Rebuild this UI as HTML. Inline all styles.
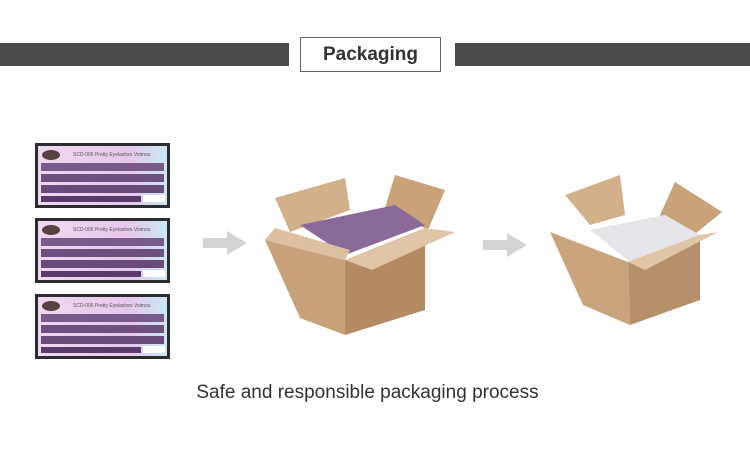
<!DOCTYPE html>
<html><head><style>
body{margin:0;width:750px;height:462px;background:#fff;overflow:hidden;font-family:"Liberation Sans",sans-serif;position:relative}
.bar{position:absolute;top:43px;height:23px;background:#4b4b4b}
.t{position:absolute;left:300px;top:37px;width:141px;height:35px;border:1px solid #666;box-sizing:border-box;text-align:center;line-height:33px;font-size:19px;font-weight:bold;color:#333;background:#fff}
.cap{position:absolute;left:0;width:735px;top:382px;text-align:center;font-size:19px;color:#333}
svg{position:absolute;left:0;top:0}
</style></head><body>
<div class="bar" style="left:0;width:289px"></div>
<div class="bar" style="left:455px;width:295px"></div>
<div class="t">Packaging</div>
<svg width="750" height="462">
<defs>
<linearGradient id="tray" x1="0" x2="1" y1="0" y2="0"><stop offset="0" stop-color="#f0d8f0"/><stop offset=".7" stop-color="#e7c7ec"/><stop offset="1" stop-color="#c8e8f5"/></linearGradient>
<g id="t">
<rect x="0" y="0" width="135" height="65" fill="#2b2b30"/>
<rect x="3" y="3" width="129" height="59" fill="url(#tray)"/>
<ellipse cx="16" cy="12" rx="9" ry="5" fill="#5a4040"/>
<text x="38" y="13" font-size="5" fill="#555">SCD-006 Pretty Eyelashes Voimou</text>
<rect x="6" y="20" width="123" height="8" fill="#7a5a8a"/>
<rect x="6" y="31" width="123" height="8" fill="#6f4f80"/>
<rect x="6" y="42" width="123" height="8" fill="#6a4a7a"/>
<rect x="6" y="53" width="100" height="6" fill="#5a3a6a"/>
<rect x="108" y="52" width="22" height="7" fill="#fff"/>
</g>
<g id="arr"><rect x="0" y="-5" width="25" height="10" fill="#d4d4d4"/><polygon points="24,-12 44,0 24,12" fill="#d4d4d4"/></g>
</defs>
<use href="#t" x="35" y="143"/>
<use href="#t" x="35" y="218"/>
<use href="#t" x="35" y="294"/>
<use href="#arr" x="203" y="243"/>
<use href="#arr" x="483" y="245"/>
<!-- box 1 -->
<polygon points="275,198 345,178 350,210 290,232" fill="#d2b08a"/>
<polygon points="395,175 445,190 428,230 385,208" fill="#caa27a"/>
<polygon points="300,225 395,205 425,225 345,255" fill="#8a6a9a"/>
<polygon points="265,240 345,260 345,335 300,318" fill="#c8a27a"/>
<polygon points="345,260 425,228 425,310 345,335" fill="#b38a62"/>
<polygon points="265,240 345,260 350,250 275,228" fill="#dcc0a0"/>
<polygon points="345,260 425,228 455,232 372,270" fill="#e0c6a6"/>
<!-- box 2 -->
<polygon points="565,195 620,175 625,215 590,225" fill="#d2b08a"/>
<polygon points="675,182 722,212 690,238 660,215" fill="#caa27a"/>
<polygon points="590,230 665,215 700,235 630,262" fill="#e6e6ea"/>
<polygon points="550,232 628,262 630,325 583,305" fill="#c9a47c"/>
<polygon points="628,262 700,235 700,300 630,325" fill="#b5906a"/>
<polygon points="628,262 700,235 718,232 645,270" fill="#e0c6a6"/>
</svg>
<div class="cap">Safe and responsible packaging process</div>
</body></html>
